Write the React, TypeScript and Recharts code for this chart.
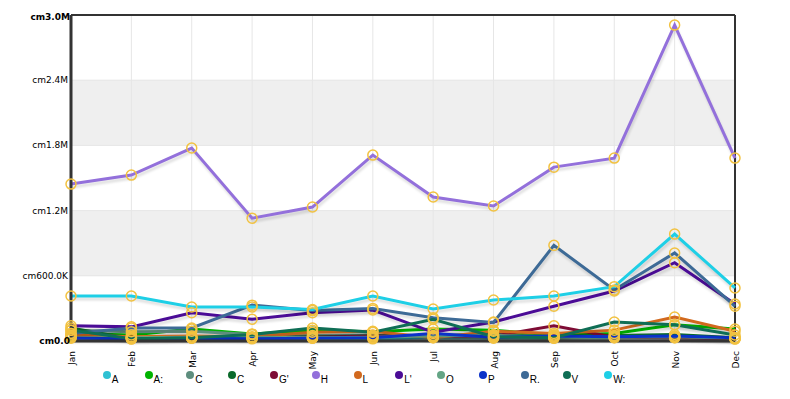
import React from "react";
import {
  LineChart,
  Line,
  XAxis,
  YAxis,
  CartesianGrid,
  ReferenceLine,
} from "recharts";

// values in thousands (K)
const months = ["Jan", "Feb", "Mar", "Apr", "May", "Jun", "Jul", "Aug", "Sep", "Oct", "Nov", "Dec"];

const seriesA = [40, 30, 30, 25, 25, 20, 30, 25, 25, 30, 30, 20];
const seriesA2 = [70, 55, 110, 65, 100, 85, 110, 100, 55, 70, 150, 110];
const seriesC = [100, 85, 90, 60, 50, 55, 40, 30, 25, 30, 40, 20];
const seriesC2 = [120, 20, 25, 30, 40, 45, 50, 60, 40, 50, 60, 30];
const seriesG = [45, 35, 35, 30, 35, 45, 40, 45, 140, 35, 30, 20];
const seriesH = [1444, 1527, 1776, 1130, 1233, 1711, 1325, 1242, 1600, 1683, 2907, 1683];
const seriesL = [55, 40, 45, 40, 80, 90, 30, 90, 70, 100, 220, 90];
const seriesL2 = [140, 130, 260, 200, 260, 285, 80, 175, 320, 460, 720, 340];
const seriesO = [30, 30, 35, 35, 30, 35, 45, 50, 40, 35, 40, 25];
const seriesP = [25, 20, 25, 20, 25, 30, 70, 35, 45, 40, 45, 30];
const seriesR = [70, 120, 120, 330, 280, 300, 215, 170, 880, 470, 810, 320];
const seriesV = [100, 20, 30, 60, 120, 80, 200, 40, 30, 175, 150, 55];
const seriesW = [414, 414, 313, 313, 290, 414, 294, 377, 414, 500, 984, 488];

const yTicks = [0, 600, 1200, 1800, 2400, 3000];
const yTickLabels = ["cm0.0", "cm600.0K", "cm1.2M", "cm1.8M", "cm2.4M", "cm3.0M"];

const series = [
  { key: "A", name: "A", color: "#2fc1d3", values: seriesA },
  { key: "A2", name: "A:", color: "#00b300", values: seriesA2 },
  { key: "C", name: "C", color: "#5e8e7e", values: seriesC },
  { key: "C2", name: "C", color: "#0b6a2b", values: seriesC2 },
  { key: "G", name: "G'", color: "#7e0c35", values: seriesG },
  { key: "H", name: "H", color: "#9370db", values: seriesH },
  { key: "L", name: "L", color: "#d2691e", values: seriesL },
  { key: "L2", name: "L'", color: "#4b0c96", values: seriesL2 },
  { key: "O", name: "O", color: "#64a585", values: seriesO },
  { key: "P", name: "P", color: "#0b32c9", values: seriesP },
  { key: "R", name: "R.", color: "#3d6a96", values: seriesR },
  { key: "V", name: "V", color: "#0f6e55", values: seriesV },
  { key: "W", name: "W:", color: "#1ecfe6", values: seriesW },
];

const data = months.map((m, i) => {
  const row: Record<string, string | number> = { month: m };
  series.forEach((s) => {
    row[s.key] = s.values[i];
  });
  return row;
});

const font = "'DejaVu Sans', Verdana, sans-serif";

const MonthTick = (props: any) => {
  const { x, y, payload } = props;
  return (
    <g transform={`translate(${x},${y})`}>
      <text
        transform="rotate(-90)"
        x={-2}
        y={0}
        dy={4}
        textAnchor="end"
        fontSize={9}
        fontFamily={font}
        fill="#000"
      >
        {payload.value}
      </text>
    </g>
  );
};

const ValueTick = (props: any) => {
  const { x, y, payload } = props;
  const idx = yTicks.indexOf(payload.value);
  const bold = idx === 0 || idx === yTicks.length - 1;
  return (
    <text
      x={x + (bold ? 7 : 5)}
      y={y}
      dy={3}
      textAnchor="end"
      fontSize={9}
      fontFamily={font}
      fontWeight={bold ? "bold" : "normal"}
      fill="#000"
    >
      {yTickLabels[idx]}
    </text>
  );
};

export default function App() {
  return (
    <div style={{ position: "relative", width: 774, height: 383 }}>
      <style>{`.recharts-line-curve { filter: drop-shadow(1px 3px 1px rgba(0,0,0,0.12)); }`}</style>
      <LineChart
        width={774}
        height={383}
        data={data}
        margin={{ top: 7, right: 47, bottom: 0, left: 0 }}
      >
        <CartesianGrid
          stroke="#e6e6e6"
          horizontalFill={["#ffffff", "#efefef"]}
          fillOpacity={1}
        />
        <XAxis
          dataKey="month"
          height={50}
          interval={0}
          tickLine={false}
          axisLine={{ stroke: "#333", strokeWidth: 3 }}
          tick={<MonthTick />}
        />
        <YAxis
          width={63}
          domain={[0, 3000]}
          ticks={yTicks}
          tickLine={false}
          axisLine={{ stroke: "#333", strokeWidth: 3 }}
          tick={<ValueTick />}
        />
        <ReferenceLine y={3000} stroke="#333" strokeWidth={2} />
        <ReferenceLine x="Dec" stroke="#333" strokeWidth={2} />
        {series.map((s) => (
          <Line
            key={s.key}
            dataKey={s.key}
            name={s.name}
            stroke={s.color}
            strokeWidth={3}
            dot={{ r: 5, stroke: "#f2c240", strokeWidth: 1.5, fill: "none" }}
            activeDot={false}
            isAnimationActive={false}
          />
        ))}
      </LineChart>
      <div style={{ position: "absolute", left: 0, top: 361, width: 774, height: 16 }}>
        {series.map((s, i) => (
          <div
            key={s.key}
            style={{
              position: "absolute",
              left: 94.7 + i * 41.8,
              top: 0,
              display: "flex",
              alignItems: "flex-start",
              fontFamily: "'Liberation Sans', Arial, sans-serif",
              fontSize: 10,
              color: "#000",
            }}
          >
            <span
              style={{
                display: "inline-block",
                width: 8,
                height: 8,
                borderRadius: 4,
                background: s.color,
                marginTop: 2,
              }}
            />
            <span style={{ marginTop: 5, marginLeft: 1 }}>{s.name}</span>
          </div>
        ))}
      </div>
    </div>
  );
}
